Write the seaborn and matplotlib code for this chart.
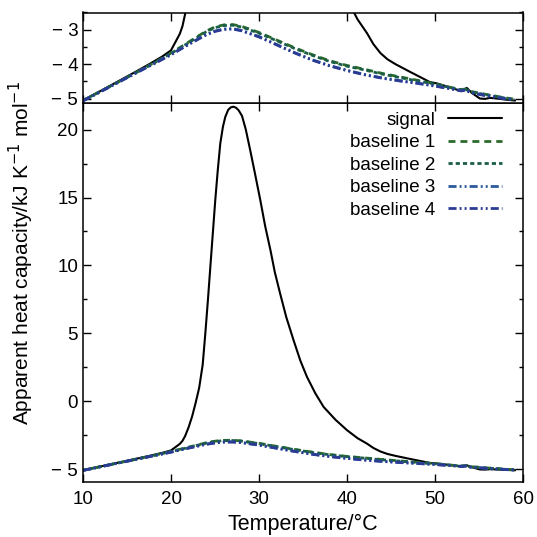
import matplotlib
matplotlib.use("Agg")
import matplotlib.pyplot as plt
import seaborn as sns
from matplotlib.ticker import MultipleLocator, FixedLocator, FixedFormatter
from matplotlib.lines import Line2D

# ---------------- data ----------------
signal_T = [10.0, 12.0, 14.0, 16.0, 17.6, 19.0, 20.0, 20.5, 21.0, 21.3, 21.6, 22.0, 22.4, 22.8,
            23.2, 23.6, 23.9, 24.2, 24.47, 25.03, 25.3, 25.6, 25.9, 26.17, 26.5, 26.8, 27.1,
            27.4, 27.7, 28.07, 28.5, 29.0, 29.5, 30.15, 30.7, 31.3, 31.8, 32.4, 33.1, 33.93,
            34.7, 35.45, 36.4, 37.34, 38.7, 40.0, 41.2, 42.27, 43.0, 43.8, 44.6, 45.5, 47.2,
            48.5, 49.4, 50.2, 51.5, 52.8, 53.3, 53.6, 54.2, 55.1, 55.7, 56.25, 57.0, 58.0, 59.1]
signal_cp = [-5.05, -4.78, -4.5, -4.22, -3.99, -3.78, -3.6, -3.36, -3.12, -2.9, -2.55, -1.9, -1.1, -0.1,
             1.0, 2.7, 5.0, 7.5, 9.9, 14.8, 16.9, 18.97, 20.2, 20.93, 21.45, 21.63, 21.68,
             21.6, 21.4, 21.0, 20.0, 18.48, 16.9, 14.8, 12.9, 11.13, 9.5, 7.94, 6.2, 4.5,
             3.0, 1.81, 0.6, -0.4, -1.35, -2.11, -2.7, -3.1, -3.42, -3.68, -3.86, -4.0, -4.23,
             -4.4, -4.52, -4.56, -4.66, -4.77, -4.76, -4.69, -4.84, -5.0, -5.01, -4.98, -5.0, -5.03, -5.06]

base_T = [10, 12, 14, 16, 18, 20, 22, 24, 25, 26, 27, 28, 30, 32, 34, 36, 38, 40, 42, 44, 46,
          48, 50, 52, 53, 53.5, 54, 56, 58, 59]
baseline1 = [-5.06, -4.79, -4.52, -4.25, -3.97, -3.68, -3.36, -3.04, -2.92, -2.86, -2.85, -2.9, -3.08,
             -3.3, -3.52, -3.72, -3.9, -4.04, -4.15, -4.27, -4.37, -4.47, -4.57, -4.69, -4.74, -4.72,
             -4.79, -4.89, -4.98, -5.02]
baseline2 = [-5.06, -4.79, -4.52, -4.25, -3.98, -3.69, -3.38, -3.06, -2.94, -2.88, -2.87, -2.92, -3.1,
             -3.32, -3.54, -3.74, -3.92, -4.06, -4.17, -4.29, -4.39, -4.49, -4.58, -4.7, -4.75, -4.73,
             -4.8, -4.9, -4.99, -5.03]
baseline3 = [-5.07, -4.8, -4.53, -4.26, -3.99, -3.72, -3.42, -3.14, -3.04, -2.98, -2.97, -3.02, -3.2,
             -3.43, -3.66, -3.87, -4.04, -4.18, -4.3, -4.4, -4.48, -4.55, -4.63, -4.72, -4.77, -4.74,
             -4.82, -4.92, -5.0, -5.03]
baseline4 = [-5.07, -4.8, -4.53, -4.26, -4.0, -3.73, -3.43, -3.15, -3.05, -2.99, -2.98, -3.03, -3.21,
             -3.44, -3.67, -3.88, -4.05, -4.19, -4.31, -4.41, -4.49, -4.56, -4.64, -4.73, -4.78, -4.75,
             -4.83, -4.93, -5.01, -5.04]

labels = ["signal", "baseline 1", "baseline 2", "baseline 3", "baseline 4"]
xticks = [10, 20, 30, 40, 50, 60]
xticklabels = ["10", "20", "30", "40", "50", "60"]
main_yticks = [-5, 0, 5, 10, 15, 20]
main_yticklabels = ["\u2212 5", "0", "5", "10", "15", "20"]
top_yticks = [-5, -4, -3]
top_yticklabels = ["\u2212 5", "\u2212 4", "\u2212 3"]

# ---------------- style ----------------
sns.set_style("ticks")
plt.rcParams["font.family"] = ["Liberation Sans", "DejaVu Sans"]
plt.rcParams["lines.scale_dashes"] = False
plt.rcParams["axes.linewidth"] = 1.1
plt.rcParams["text.color"] = "black"
plt.rcParams["axes.labelcolor"] = "black"

colors = ["black", "#2c6b2c", "#1a5e48", "#2a5a9c", "#2b3b94"]
styles = ["-", (0, (5, 3.6)), (0, (3, 2.2)), (0, (5.8, 2.2, 1.4, 2.2, 1.4, 2.2)),
          (0, (5.8, 2.2, 1.4, 2.2, 1.4, 2.2))]
widths = [1.5, 2.0, 2.0, 2.0, 2.0]

fig = plt.figure(figsize=(5.37, 5.37), dpi=100)
L, R = 83 / 537, 523 / 537
ax = fig.add_axes([L, 1 - 481.7 / 537, R - L, (481.7 - 103) / 537])
axt = fig.add_axes([L, 1 - 103 / 537, R - L, (103 - 12.5) / 537])

series = [(signal_T, signal_cp), (base_T, baseline1), (base_T, baseline2),
          (base_T, baseline3), (base_T, baseline4)]

for a in (ax, axt):
    for (xs, ys), c, ls, lw, lab in zip(series, colors, styles, widths, labels):
        sns.lineplot(x=xs, y=ys, ax=a, color=c, linestyle=ls, linewidth=lw,
                     sort=False, estimator=None, legend=False)
    a.set_xlim(10, 60)
    a.xaxis.set_major_locator(FixedLocator(xticks))
    a.tick_params(axis="both", which="both", direction="in", top=True, right=True,
                  labelsize=13.5, width=1.0, color="black", labelcolor="black")
    a.tick_params(which="major", length=6)
    a.tick_params(which="minor", length=3)
    for s in a.spines.values():
        s.set_color("black")
        s.set_linewidth(1.1)
    a.set_xlabel("")
    a.set_ylabel("")

ax.set_ylim(-5.9, 21.95)
ax.yaxis.set_major_locator(FixedLocator(main_yticks))
ax.yaxis.set_major_formatter(FixedFormatter(main_yticklabels))
ax.yaxis.set_minor_locator(MultipleLocator(2.5))
ax.xaxis.set_major_formatter(FixedFormatter(xticklabels))
ax.tick_params(axis="x", pad=7)

axt.set_ylim(-5.13, -2.5)
axt.yaxis.set_major_locator(FixedLocator(top_yticks))
axt.yaxis.set_major_formatter(FixedFormatter(top_yticklabels))
axt.yaxis.set_minor_locator(MultipleLocator(0.5))
axt.tick_params(axis="x", labelbottom=False)

handles = [Line2D([], [], color=c, linestyle=ls, linewidth=lw)
           for c, ls, lw in zip(colors, styles, widths)]
ax.legend(handles, labels, loc="upper right", frameon=False, markerfirst=False,
          fontsize=13.5, handlelength=2.9, handletextpad=0.65, labelspacing=0.29,
          borderaxespad=0.0, bbox_to_anchor=(0.97, 0.997))

ax.set_xlabel("Temperature/\u00b0C", fontsize=15.5, labelpad=4)
fig.text(0.04, 1 - 425 / 537, "Apparent heat capacity/kJ K$^{\u2212 1}$ mol$^{\u2212 1}$",
         rotation=90, ha="center", va="bottom", fontsize=15)

fig.savefig("out.png", dpi=100)
